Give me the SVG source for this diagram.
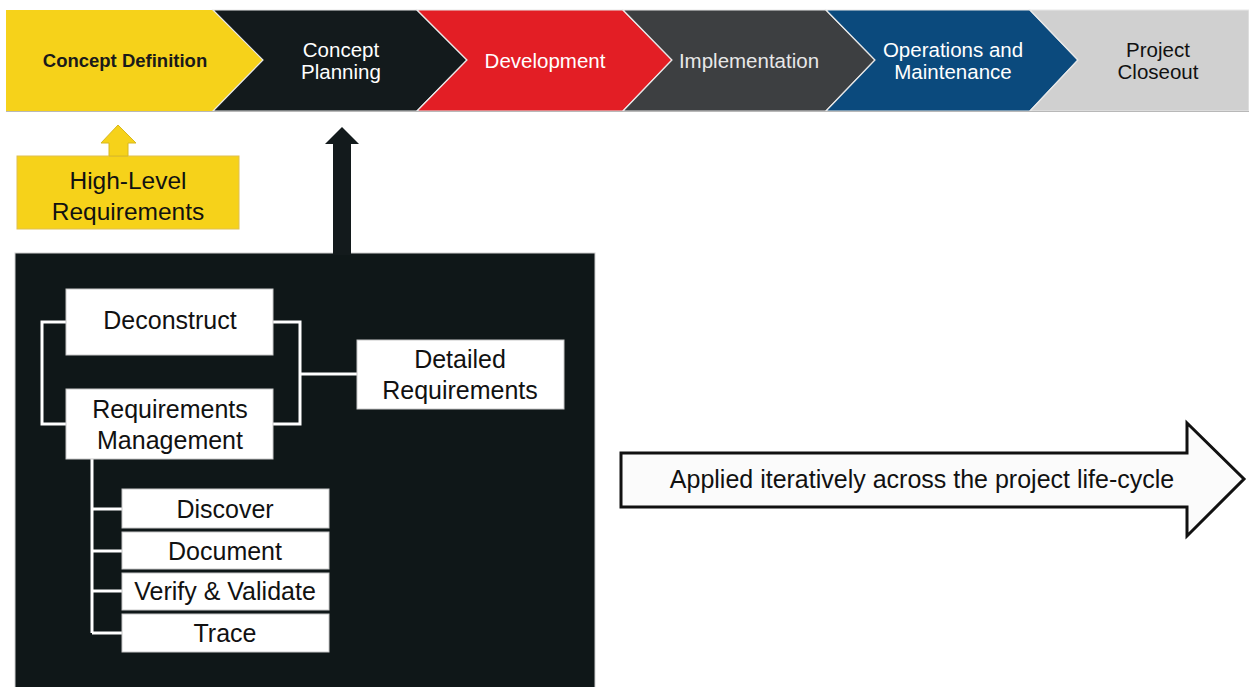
<svg xmlns="http://www.w3.org/2000/svg" width="1249" height="687" viewBox="0 0 1249 687">
<style>
text{font-family:"Liberation Sans",Arial,sans-serif;text-anchor:middle;dominant-baseline:central}
.band{font-size:20.5px;fill:#ffffff}
.box{fill:#ffffff;stroke:#c8c8c8;stroke-width:1}
.bt{font-size:25px;fill:#111111}
.ln{stroke:#ffffff;stroke-width:3;fill:none}
.sep{stroke:#e8e8e8;stroke-width:1.2}
</style>
<rect width="1249" height="687" fill="#ffffff"/>
<g id="band">
<g id="phase-concept-definition">
<polygon points="6,10 213,10 263,60 213,111 6,111" fill="#f6d21a"/>
<text x="125" y="60" style="font-size:18.5px;font-weight:bold;fill:#1a1a1a">Concept Definition</text>
</g>
<g id="phase-concept-planning">
<polygon points="213,10 417,10 467,60 417,111 213,111 263,60" fill="#131a1c" class="sep"/>
<text class="band" x="341" y="49">Concept</text>
<text class="band" x="341" y="71">Planning</text>
</g>
<g id="phase-development">
<polygon points="417,10 623,10 672,60 623,111 417,111 467,60" fill="#e31e25" class="sep"/>
<text class="band" x="545" y="60">Development</text>
</g>
<g id="phase-implementation">
<polygon points="623,10 826,10 875,60 826,111 623,111 672,60" fill="#3d3f41" class="sep"/>
<text class="band" x="749" y="60" style="fill:#e8e8e8">Implementation</text>
</g>
<g id="phase-operations">
<polygon points="826,10 1030,10 1078,60 1030,111 826,111 875,60" fill="#0b4a7d" class="sep"/>
<text class="band" x="953" y="49">Operations and</text>
<text class="band" x="953" y="71">Maintenance</text>
</g>
<g id="phase-closeout">
<polygon points="1030,10 1249,10 1249,111 1030,111 1078,60" fill="#d0d0d0" class="sep"/>
<text class="band" x="1158" y="49" style="fill:#111111">Project</text>
<text class="band" x="1158" y="71" style="fill:#111111">Closeout</text>
</g>
<line x1="6" y1="111.5" x2="1249" y2="111.5" stroke="#b8b8b8" stroke-width="1"/>
</g>
<g id="high-level-requirements">
<rect x="17" y="156" width="222" height="73" fill="#f6d21a" stroke="#e0c050" stroke-width="1"/>
<text x="128" y="180" style="font-size:24.5px;fill:#111">High-Level</text>
<text x="128" y="211" style="font-size:24.5px;fill:#111">Requirements</text>
</g>
<g id="process-panel">
<rect x="15" y="253" width="580" height="440" fill="#0f1718" stroke="#cfcfcf" stroke-width="1"/>
</g>
<g id="connectors">
<polygon points="109,156 109,143 101,143 118,125 136,143 128,143 128,156" fill="#f6d21a" stroke="#d8b820" stroke-width="1"/>
<polygon points="333,255 333,144 325,144 342,127 359,144 351,144 351,255" fill="#131a1c"/>
<path class="ln" d="M66,322 H42 V424 H66"/>
<path class="ln" d="M273,322 H300 V424 H273"/>
<path class="ln" d="M300,374 H357"/>
<path class="ln" d="M92,459 V633"/>
<path class="ln" d="M92,509 H122 M92,551 H122 M92,591 H122 M92,633 H122"/>
</g>
<g id="deconstruct">
<rect class="box" x="66" y="289" width="207" height="66"/>
<text class="bt" x="170" y="320">Deconstruct</text>
</g>
<g id="requirements-management">
<rect class="box" x="66" y="389" width="207" height="70"/>
<text class="bt" x="170" y="409">Requirements</text>
<text class="bt" x="170" y="440">Management</text>
</g>
<g id="detailed-requirements">
<rect class="box" x="357" y="340" width="207" height="69"/>
<text class="bt" x="460" y="359">Detailed</text>
<text class="bt" x="460" y="390">Requirements</text>
</g>
<g id="discover">
<rect class="box" x="122" y="489" width="207" height="39"/>
<text class="bt" x="225" y="509">Discover</text>
</g>
<g id="document">
<rect class="box" x="122" y="532" width="207" height="37"/>
<text class="bt" x="225" y="551">Document</text>
</g>
<g id="verify-validate">
<rect class="box" x="122" y="573" width="207" height="37"/>
<text class="bt" x="225" y="591">Verify &amp; Validate</text>
</g>
<g id="trace">
<rect class="box" x="122" y="614" width="207" height="38"/>
<text class="bt" x="225" y="633">Trace</text>
</g>
<g id="iterative-arrow">
<polygon points="621,453 1187,453 1187,423 1244,479 1187,536 1187,507 621,507" fill="#fbfbfb" stroke="#111111" stroke-width="3"/>
<text x="922" y="479" style="font-size:25px;fill:#111">Applied iteratively across the project life-cycle</text>
</g>
</svg>
